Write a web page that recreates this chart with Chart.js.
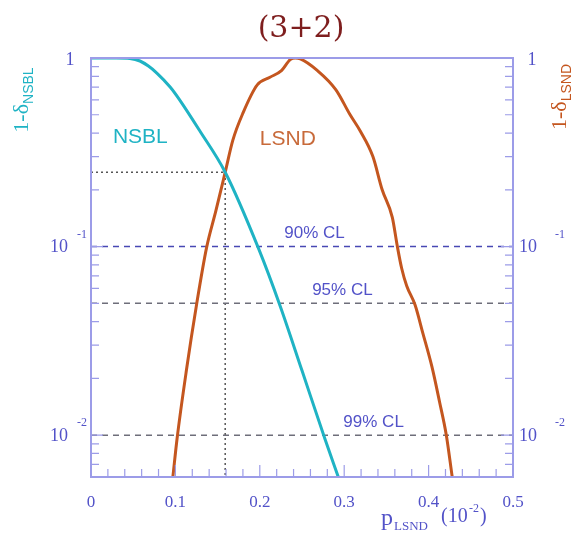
<!DOCTYPE html>
<html>
<head>
<meta charset="utf-8">
<script src="https://cdn.jsdelivr.net/npm/chart.js@4"></script>
<style>
  html, body { margin: 0; padding: 0; background: #fff; }
  #wrap { width: 583px; height: 547px; }
</style>
</head>
<body>
<div id="wrap"><canvas id="clChart"></canvas></div>
<script>
// p_LSND values (10^-2) and 1-delta for each curve
const nsblX = [0, 0.03, 0.046, 0.058, 0.068, 0.078, 0.094, 0.105, 0.129, 0.159, 0.198, 0.224, 0.25, 0.277, 0.293];
const nsblY = [1, 1, 0.994, 0.964, 0.906, 0.832, 0.70, 0.60, 0.41, 0.248, 0.099, 0.0486, 0.022, 0.0096, 0.006];

const lsndX = [0.097, 0.102, 0.113, 0.125, 0.137, 0.148, 0.159, 0.168, 0.18, 0.197, 0.212, 0.226, 0.236, 0.242, 0.248, 0.268, 0.29, 0.307, 0.319, 0.334, 0.345, 0.357, 0.363, 0.368, 0.374, 0.384, 0.393, 0.404, 0.413, 0.421, 0.428];
const lsndY = [0.006, 0.0096, 0.022, 0.049, 0.099, 0.155, 0.248, 0.366, 0.51, 0.72, 0.79, 0.86, 0.98, 1, 0.99, 0.86, 0.68, 0.5, 0.41, 0.3, 0.2, 0.143, 0.1, 0.077, 0.062, 0.049, 0.035, 0.023, 0.015, 0.01, 0.006];

const clLevels = [0.1, 0.05, 0.01];
const clLabels = ["90% CL", "95% CL", "99% CL"];
const crossing = [0.159, 0.248];

const xTicks = [0, 0.1, 0.2, 0.3, 0.4, 0.5];
const xTickLabels = ["0", "0.1", "0.2", "0.3", "0.4", "0.5"];
const yMajor = [1, 0.1, 0.01];

const xRange = [0, 0.5];
const yRange = [0.006, 1];

const cyan = "#1fb3c4";
const orange = "#c4561f";
const axisCol = "#9c9ce8";
const labelCol = "#5252c8";

function pts(xs, ys) {
  return xs.map((x, i) => ({ x: x, y: ys[i] }));
}

const datasets = [
  {
    label: "NSBL",
    data: pts(nsblX, nsblY),
    borderColor: cyan,
    borderWidth: 3,
    cubicInterpolationMode: "monotone",
  },
  {
    label: "LSND",
    data: pts(lsndX, lsndY),
    borderColor: orange,
    borderWidth: 3,
    cubicInterpolationMode: "monotone",
  },
];

clLevels.forEach((v, i) => {
  datasets.push({
    label: clLabels[i],
    data: [{ x: xRange[0], y: v }, { x: xRange[1], y: v }],
    borderColor: i === 0 ? "#4848b4" : "#6e6e7a",
    borderWidth: 1.5,
    borderDash: [6, 5],
  });
});

datasets.push({
  label: "cross",
  data: [
    { x: xRange[0], y: crossing[1] },
    { x: crossing[0], y: crossing[1] },
    { x: crossing[0], y: yRange[0] },
  ],
  borderColor: "#555",
  borderWidth: 1.5,
  borderDash: [2, 3],
});

const overlay = {
  id: "overlay",
  afterDraw(chart) {
    const ctx = chart.ctx;
    const a = chart.chartArea;
    const xs = chart.scales.x;
    const ys = chart.scales.y;
    ctx.save();

    // frame
    ctx.strokeStyle = axisCol;
    ctx.lineWidth = 2;
    ctx.strokeRect(a.left, a.top, a.right - a.left, a.bottom - a.top);

    // x ticks (inward)
    ctx.lineWidth = 1.2;
    for (let k = 0; k <= 25; k++) {
      const v = k * 0.02;
      const px = xs.getPixelForValue(v);
      const len = k % 5 === 0 ? 12 : 8;
      ctx.beginPath();
      ctx.moveTo(px, a.bottom);
      ctx.lineTo(px, a.bottom - len);
      ctx.stroke();
    }
    // y ticks (log, both sides inward)
    for (let d = -3; d <= 0; d++) {
      for (let m = 1; m <= 9; m++) {
        const v = m * Math.pow(10, d);
        if (v < yRange[0] || v > yRange[1]) continue;
        const py = ys.getPixelForValue(v);
        const len = m === 1 ? 12 : 8;
        ctx.beginPath();
        ctx.moveTo(a.left, py);
        ctx.lineTo(a.left + len, py);
        ctx.moveTo(a.right, py);
        ctx.lineTo(a.right - len, py);
        ctx.stroke();
      }
    }

    // x tick labels
    ctx.fillStyle = labelCol;
    ctx.font = "17px 'Liberation Serif', serif";
    ctx.textAlign = "center";
    ctx.textBaseline = "top";
    xTicks.forEach((v, i) => {
      ctx.fillText(xTickLabels[i], xs.getPixelForValue(v), a.bottom + 17);
    });

    // y tick labels
    ctx.textBaseline = "middle";
    yMajor.forEach((v) => {
      const py = ys.getPixelForValue(v);
      const exp = Math.round(Math.log10(v));
      ctx.font = "18px 'Liberation Serif', serif";
      ctx.textAlign = "center";
      if (exp === 0) {
        ctx.fillText("1", a.left - 21, py + 2);
        ctx.fillText("1", a.right + 19, py + 2);
      } else {
        ctx.fillText("10", a.left - 32, py + 1);
        ctx.fillText("10", a.right + 15, py + 1);
        ctx.font = "12px 'Liberation Serif', serif";
        ctx.fillText(String(exp), a.left - 9, py - 12);
        ctx.fillText(String(exp), a.right + 47, py - 12);
      }
    });

    // curve labels
    ctx.font = "21px 'Liberation Sans', sans-serif";
    ctx.textAlign = "left";
    ctx.fillStyle = cyan;
    ctx.fillText("NSBL", xs.getPixelForValue(0.026), ys.getPixelForValue(0.38));
    ctx.fillStyle = "#c86a3a";
    ctx.fillText("LSND", xs.getPixelForValue(0.2), ys.getPixelForValue(0.37));

    // CL labels
    ctx.font = "17px 'Liberation Sans', sans-serif";
    ctx.fillStyle = labelCol;
    const clX = [0.229, 0.262, 0.299];
    clLevels.forEach((v, i) => {
      ctx.fillText(clLabels[i], xs.getPixelForValue(clX[i]), ys.getPixelForValue(v) - 13);
    });

    // title
    ctx.fillStyle = "#7e1e1e";
    ctx.font = "30px 'DejaVu Serif', serif";
    ctx.textAlign = "center";
    ctx.fillText("(3+2)", 301, 29);

    // x title
    ctx.fillStyle = labelCol;
    ctx.textAlign = "left";
    ctx.font = "24px 'Liberation Serif', serif";
    ctx.fillText("p", 381, 519);
    ctx.font = "13px 'Liberation Serif', serif";
    ctx.fillText("LSND", 394, 527);
    ctx.font = "20px 'Liberation Serif', serif";
    ctx.fillText("(10", 441, 517);
    ctx.font = "12px 'Liberation Serif', serif";
    ctx.fillText("-2", 469, 509);
    ctx.font = "20px 'Liberation Serif', serif";
    ctx.fillText(")", 480, 517);

    // y titles (rotated)
    function yTitle(color, cx, cy, sub) {
      ctx.save();
      ctx.translate(cx, cy);
      ctx.rotate(-Math.PI / 2);
      ctx.fillStyle = color;
      ctx.textAlign = "left";
      ctx.font = "22px 'Liberation Serif', serif";
      const main = "1-\u03b4";
      const w = ctx.measureText(main).width;
      ctx.font = "14px 'Liberation Sans', sans-serif";
      const ws = ctx.measureText(sub).width;
      const start = -(w + ws) / 2;
      ctx.font = "22px 'Liberation Serif', serif";
      ctx.fillText(main, start, 0);
      ctx.font = "14px 'Liberation Sans', sans-serif";
      ctx.fillText(sub, start + w, 7);
      ctx.restore();
    }
    yTitle(cyan, 22, 100, "NSBL");
    yTitle(orange, 560, 97, "LSND");

    ctx.restore();
  },
};

new Chart(document.getElementById("clChart").getContext("2d"), {
  type: "line",
  data: { datasets: datasets },
  options: {
    responsive: true,
    maintainAspectRatio: false,
    animation: false,
    layout: { padding: { left: 91, right: 70, top: 58, bottom: 70 } },
    elements: { point: { radius: 0 } },
    plugins: {
      legend: { display: false },
      tooltip: { enabled: false },
    },
    scales: {
      x: {
        type: "linear",
        min: xRange[0],
        max: xRange[1],
        display: false,
      },
      y: {
        type: "logarithmic",
        min: yRange[0],
        max: yRange[1],
        display: false,
      },
    },
  },
  plugins: [overlay],
});
</script>
</body>
</html>
